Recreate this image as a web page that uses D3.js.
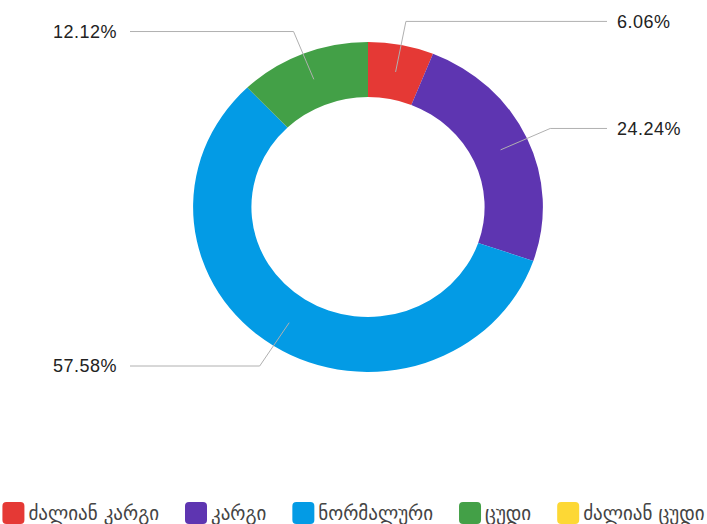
<!DOCTYPE html>
<html>
<head>
<meta charset="utf-8">
<script src="https://cdn.jsdelivr.net/npm/d3@7"></script>
<style>
  body { margin: 0; background: #fff; }
  svg { display: block; }
</style>
</head>
<body>
<div id="chart"></div>
<script>
// Donut chart - share of answers per rating
const categories = ["ძალიან კარგი", "კარგი", "ნორმალური", "ცუდი", "ძალიან ცუდი"];
const percents = [6.06, 24.24, 57.58, 12.12, 0];
const colors = ["#e53935", "#5e35b1", "#039be5", "#43a047", "#fdd835"];

const data = categories.map((c, i) => ({ name: c, value: percents[i], color: colors[i] }));

const width = 707;
const height = 524;
const cx = 368, cy = 207;
const outerR = 165, innerR = 110;
const sx = 1.06; // slight horizontal stretch seen in the reference

const svg = d3.select("#chart").append("svg")
    .attr("width", width)
    .attr("height", height);

const pie = d3.pie().sort(null).value(d => d.value);
const arcs = pie(data);

const arc = d3.arc().innerRadius(innerR).outerRadius(outerR);

svg.append("g")
    .attr("transform", `translate(${cx},${cy}) scale(${sx},1)`)
    .selectAll("path")
    .data(arcs.filter(d => d.value > 0))
    .enter()
    .append("path")
    .attr("d", arc)
    .attr("fill", d => d.data.color);

// leader lines + labels
const midR = (innerR + outerR) / 2;
const elbowR = 189;
const rightX = 607, leftX = 130;

function pt(angle, r) {
    return [cx + Math.sin(angle) * r * sx, cy - Math.cos(angle) * r];
}

const labels = svg.append("g");
arcs.filter(d => d.value > 0).forEach(d => {
    const a = (d.startAngle + d.endAngle) / 2;
    const p0 = pt(a, midR);
    const p1 = pt(a, elbowR);
    const right = Math.sin(a) >= 0;
    const p2 = [right ? rightX : leftX, p1[1]];

    labels.append("polyline")
        .attr("points", [p0, p1, p2].map(p => p.join(",")).join(" "))
        .attr("fill", "none")
        .attr("stroke", "#b0b0b0")
        .attr("stroke-width", 1);

    labels.append("text")
        .attr("x", right ? p2[0] + 10 : p2[0] - 13)
        .attr("y", p2[1])
        .attr("dy", "0.35em")
        .attr("text-anchor", right ? "start" : "end")
        .style("font-family", "'Liberation Sans', Arial, sans-serif")
        .style("font-size", "18px")
        .style("letter-spacing", "0.5px")
        .style("fill", "#222")
        .text(d.value.toFixed(2) + "%");
});

// legend
const legend = svg.append("g");
const box = 22, pad = 4, gap = 26;
let x = 0;
data.forEach(d => {
    const g = legend.append("g").attr("transform", `translate(${x},0)`);
    g.append("rect")
        .attr("width", box)
        .attr("height", box)
        .attr("rx", 4)
        .attr("fill", d.color);
    const t = g.append("text")
        .attr("x", box + pad)
        .attr("y", box / 2)
        .attr("dy", "0.35em")
        .style("font-family", "'DejaVu Sans', sans-serif")
        .style("font-size", "19px")
        .style("fill", "#444")
        .text(d.name);
    x += box + pad + t.node().getComputedTextLength() + gap;
});
const legendW = x - gap;
legend.attr("transform", `translate(${(width - legendW) / 2},${502})`);
</script>
</body>
</html>
